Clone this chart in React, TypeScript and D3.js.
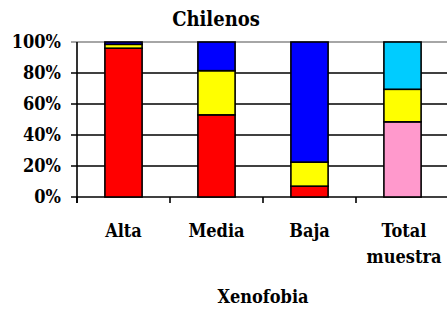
import React from "react";
import * as d3 from "d3";

const categories = ["Alta", "Media", "Baja", "Total muestra"];
const seriesBottom = [96, 53, 7, 48.5];
const seriesMiddle = [2.5, 28.5, 15.5, 21];
const seriesTop = [1.5, 18.5, 77.5, 30.5];
const yTicks = [0, 20, 40, 60, 80, 100];
const title = "Chilenos";
const xTitle = "Xenofobia";

const bottomColors = ["#FF0000", "#FF0000", "#FF0000", "#FF99CC"];
const middleColors = ["#FFFF00", "#FFFF00", "#FFFF00", "#FFFF00"];
const topColors = ["#0000FF", "#0000FF", "#0000FF", "#00CCFF"];

export default function App() {
  const W = 447, H = 311;
  const x0 = 77, x1 = 449;
  const x = d3.scaleBand<string>().domain(categories).range([x0, x1]).paddingInner(0.6).paddingOuter(0.3);
  const y = d3.scaleLinear().domain([0, 100]).range([197, 42]);
  const step = x.step();
  const font = "'DejaVu Serif Condensed', 'DejaVu Serif', serif";

  const rows = categories.map((c, i) => ({ c, vals: [seriesBottom[i], seriesMiddle[i], seriesTop[i]], cols: [bottomColors[i], middleColors[i], topColors[i]] }));

  return (
    <svg width={W} height={H} style={{ position: "absolute", left: 0, top: 0, background: "#fff" }} fontFamily={font} fontWeight="bold">
      <text x={216} y={26} textAnchor="middle" fontSize={20}>{title}</text>
      {yTicks.map((t) => (
        <g key={t}>
          <line x1={71} x2={W} y1={y(t)} y2={y(t)} stroke={t === 100 ? "#888" : "#000"} strokeWidth={1.6} />
          <text x={61} y={y(t)} dy="0.36em" textAnchor="end" fontSize={18}>{t}%</text>
        </g>
      ))}
      <line x1={x0} x2={x0} y1={y(100)} y2={y(0) + 6} stroke="#000" strokeWidth={1.6} />
      {categories.map((c, i) => (
        <line key={c} x1={x0 + i * step} x2={x0 + i * step} y1={y(0)} y2={y(0) + 6} stroke="#000" strokeWidth={1.6} />
      ))}
      {rows.map((r) => {
        let acc = 0;
        return (
          <g key={r.c}>
            {r.vals.map((v, k) => {
              const yTop = y(acc + v);
              const yBot = y(acc);
              acc += v;
              return (
                <rect key={k} x={x(r.c)!} y={yTop} width={x.bandwidth()} height={yBot - yTop} fill={r.cols[k]} stroke="#000" strokeWidth={1.6} />
              );
            })}
          </g>
        );
      })}
      {categories.map((c) => {
        const parts = c.split(" ");
        const cx = x(c)! + x.bandwidth() / 2 + (parts.length > 1 ? 1.5 : 0);
        return (
          <text key={c} x={cx} y={237} textAnchor="middle" fontSize={18}>
            {parts.map((p, j) => (
              <tspan key={j} x={cx} dy={j === 0 ? 0 : 26}>{p}</tspan>
            ))}
          </text>
        );
      })}
      <text x={263} y={303} textAnchor="middle" fontSize={18}>{xTitle}</text>
    </svg>
  );
}
